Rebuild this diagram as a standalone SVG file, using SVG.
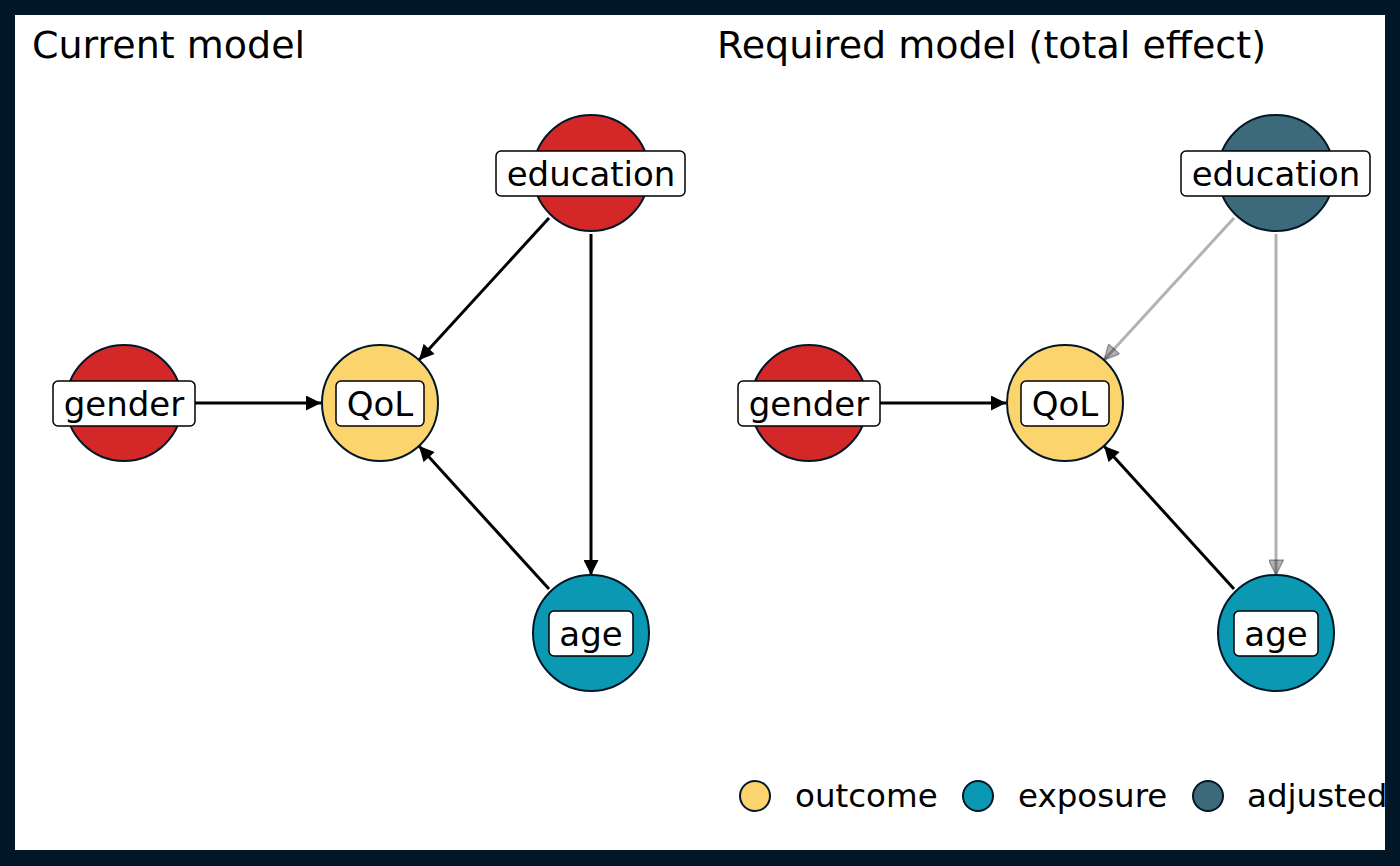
<svg xmlns="http://www.w3.org/2000/svg" width="1400" height="866" viewBox="0 0 1400 866">
<style>
.t{font-family:"DejaVu Sans",sans-serif;fill:#000}
.title{font-size:38px}
.lab{font-size:34px;text-anchor:middle}
.leg{font-size:32.5px}
.node{stroke:#011627;stroke-width:2}
.red{fill:#d42828}
.yel{fill:#fbd46e}
.teal{fill:#0a98b2}
.adj{fill:#3d6a7a}
.box{fill:#fff;stroke:#000;stroke-width:1.5}
.e{stroke:#000;stroke-width:3;fill:none}
.g{stroke:#000;stroke-opacity:0.3;stroke-width:3;fill:none}
</style>
<defs>
<marker id="ah" viewBox="0 0 10 10" refX="10" refY="5" markerWidth="5.5" markerHeight="5" orient="auto" markerUnits="strokeWidth">
<path d="M0,0 L10,5 L0,10 z" fill="#000"/>
</marker>
<marker id="ahg" viewBox="0 0 10 10" refX="10" refY="5" markerWidth="5.5" markerHeight="5" orient="auto" markerUnits="strokeWidth">
<path d="M0,0 L10,5 L0,10 z" fill="#000" fill-opacity="0.3" stroke="#000" stroke-opacity="0.3" stroke-width="1"/>
</marker>
</defs>
<rect x="0" y="0" width="1400" height="866" fill="#011627"/>
<rect x="15" y="15" width="1370" height="835" fill="#fff"/>
<text class="t title" x="32" y="58">Current model</text>
<text class="t title" x="717" y="58">Required model (total effect)</text>
<g id="connectors">
<line class="e" x1="195" y1="403" x2="321" y2="403" marker-end="url(#ah)"/>
<line class="e" x1="549" y1="218" x2="419" y2="360" marker-end="url(#ah)"/>
<line class="e" x1="591" y1="234" x2="591" y2="575" marker-end="url(#ah)"/>
<line class="e" x1="549" y1="589" x2="419" y2="446" marker-end="url(#ah)"/>
<line class="e" x1="880" y1="403" x2="1006" y2="403" marker-end="url(#ah)"/>
<line class="g" x1="1234" y1="218" x2="1104" y2="360" marker-end="url(#ahg)"/>
<line class="g" x1="1276" y1="234" x2="1276" y2="575" marker-end="url(#ahg)"/>
<line class="e" x1="1234" y1="589" x2="1104" y2="446" marker-end="url(#ah)"/>
</g>
<g id="n-education-l">
<circle class="node red" cx="591" cy="173" r="58"/>
<rect class="box" x="496" y="151" width="189" height="45" rx="5"/>
<text class="t lab" x="591" y="186">education</text>
</g>
<g id="n-gender-l">
<circle class="node red" cx="124" cy="403" r="58"/>
<rect class="box" x="53" y="381" width="142" height="45" rx="5"/>
<text class="t lab" x="124" y="416">gender</text>
</g>
<g id="n-qol-l">
<circle class="node yel" cx="380" cy="403" r="58"/>
<rect class="box" x="336" y="381" width="88" height="45" rx="5"/>
<text class="t lab" x="380" y="416">QoL</text>
</g>
<g id="n-age-l">
<circle class="node teal" cx="591" cy="633" r="58"/>
<rect class="box" x="549" y="611" width="84" height="45" rx="5"/>
<text class="t lab" x="591" y="646">age</text>
</g>
<g id="n-education-r">
<circle class="node adj" cx="1276" cy="173" r="58"/>
<rect class="box" x="1181" y="151" width="189" height="45" rx="5"/>
<text class="t lab" x="1276" y="186">education</text>
</g>
<g id="n-gender-r">
<circle class="node red" cx="809" cy="403" r="58"/>
<rect class="box" x="738" y="381" width="142" height="45" rx="5"/>
<text class="t lab" x="809" y="416">gender</text>
</g>
<g id="n-qol-r">
<circle class="node yel" cx="1065" cy="403" r="58"/>
<rect class="box" x="1021" y="381" width="88" height="45" rx="5"/>
<text class="t lab" x="1065" y="416">QoL</text>
</g>
<g id="n-age-r">
<circle class="node teal" cx="1276" cy="633" r="58"/>
<rect class="box" x="1234" y="611" width="84" height="45" rx="5"/>
<text class="t lab" x="1276" y="646">age</text>
</g>
<g id="legend">
<ellipse class="node yel" cx="755" cy="796" rx="15" ry="15"/>
<text class="t leg" x="795" y="807">outcome</text>
<ellipse class="node teal" cx="978" cy="796" rx="15" ry="15"/>
<text class="t leg" x="1018" y="807">exposure</text>
<ellipse class="node adj" cx="1208" cy="796" rx="15" ry="15"/>
<text class="t leg" x="1247" y="807">adjusted</text>
</g>
</svg>
